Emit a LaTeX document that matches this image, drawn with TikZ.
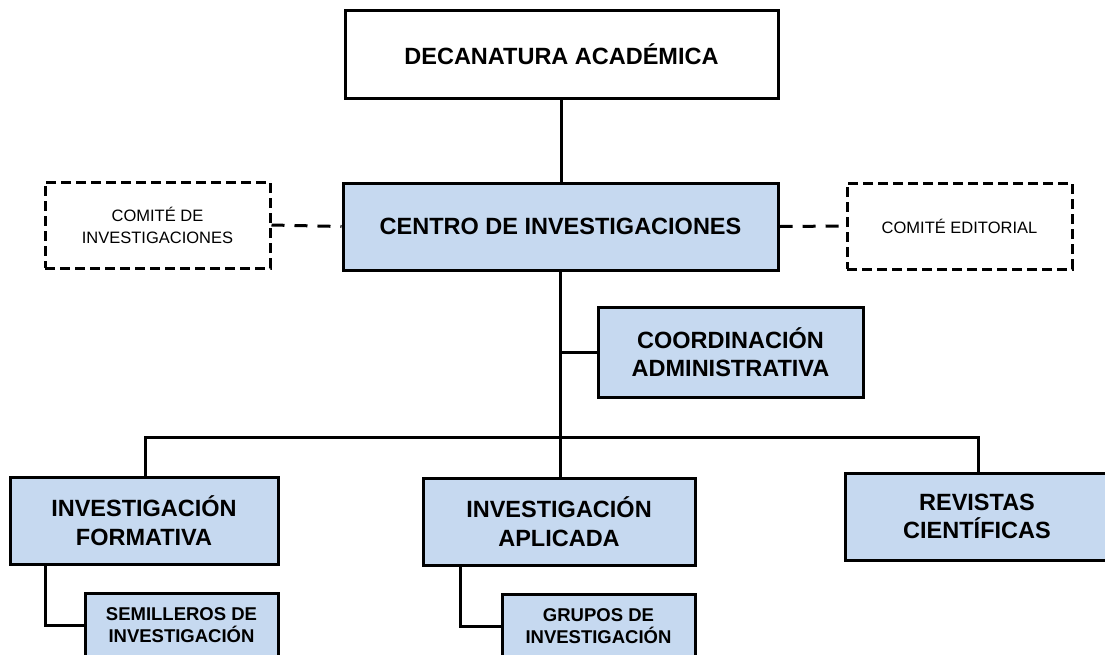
\documentclass[tikz,border=0pt]{standalone}
\usepackage{fontspec}
\setmainfont{Liberation Sans}
\usetikzlibrary{calc}
\definecolor{boxblue}{RGB}{198,217,240}
\tikzset{
  orgbox/.style={draw=black, line width=3pt, fill=boxblue, rectangle, align=center, inner sep=0pt,
    font=\fontsize{23.5}{28.5}\selectfont\bfseries},
  whitebox/.style={orgbox, fill=white},
  dashbox/.style={draw=black, line width=3pt, dash pattern=on 10pt off 5pt, fill=white, rectangle, align=center, inner sep=0pt,
    font=\fontsize{16.5}{22}\selectfont},
  smallbox/.style={orgbox, font=\fontsize{18.5}{22}\selectfont\bfseries},
  link/.style={draw=black, line width=3pt},
  dlink/.style={draw=black, line width=3pt, dash pattern=on 13pt off 10pt}
}
\begin{document}
\begin{tikzpicture}[x=1pt,y=-1pt]
\useasboundingbox (0,0) rectangle (1105,654);
\node[whitebox, minimum width=433pt, minimum height=88pt] (dec) at (561.5,54) {DECANATURA ACADÉMICA};
\node[orgbox, minimum width=435pt, minimum height=87pt] (centro) at (560.5,226.5) {CENTRO DE INVESTIGACIONES};
\node[dashbox, minimum width=225pt, minimum height=86pt] (ci) at (157.5,225) {COMITÉ DE\\INVESTIGACIONES};
\node[dashbox, minimum width=225pt, minimum height=86pt] (ce) at (959.5,226) {COMITÉ EDITORIAL};
\node[orgbox, minimum width=265pt, minimum height=90pt] (coord) at (730.5,352) {COORDINACIÓN\\ADMINISTRATIVA};
\node[orgbox, minimum width=268pt, minimum height=87pt] (form) at (144,520.5) {INVESTIGACIÓN\\FORMATIVA};
\node[orgbox, minimum width=272pt, minimum height=87pt] (apl) at (559,521.5) {INVESTIGACIÓN\\APLICADA};
\node[orgbox, minimum width=264pt, minimum height=87pt] (rev) at (977,516.5) {REVISTAS\\CIENTÍFICAS};
\node[smallbox, minimum width=193pt, minimum height=65pt] (sem) at (181.5,625.5) {SEMILLEROS DE\\INVESTIGACIÓN};
\node[smallbox, minimum width=193pt, minimum height=65pt] (grp) at (598.5,626.5) {GRUPOS DE\\INVESTIGACIÓN};
\coordinate (bl) at (145,437);
\coordinate (br) at (978,437);
\draw[link] (dec.south) -- (dec.south |- centro.north);
\draw[link] (centro.south) -- (centro.south |- apl.north);
\draw[link] (coord.west) -- (coord.west -| centro.south);
\draw[link] (bl |- form.north) -- (bl) -- (br) -- (br |- rev.north);
\draw[link] ($(form.south west)+(37,0)$) |- (sem.west);
\draw[link] ($(apl.south west)+(39,0)$) |- (grp.west);
\draw[dlink] (ci.east) -- (centro.west);
\draw[dlink] (centro.east) -- (ce.west);
\end{tikzpicture}
\end{document}
